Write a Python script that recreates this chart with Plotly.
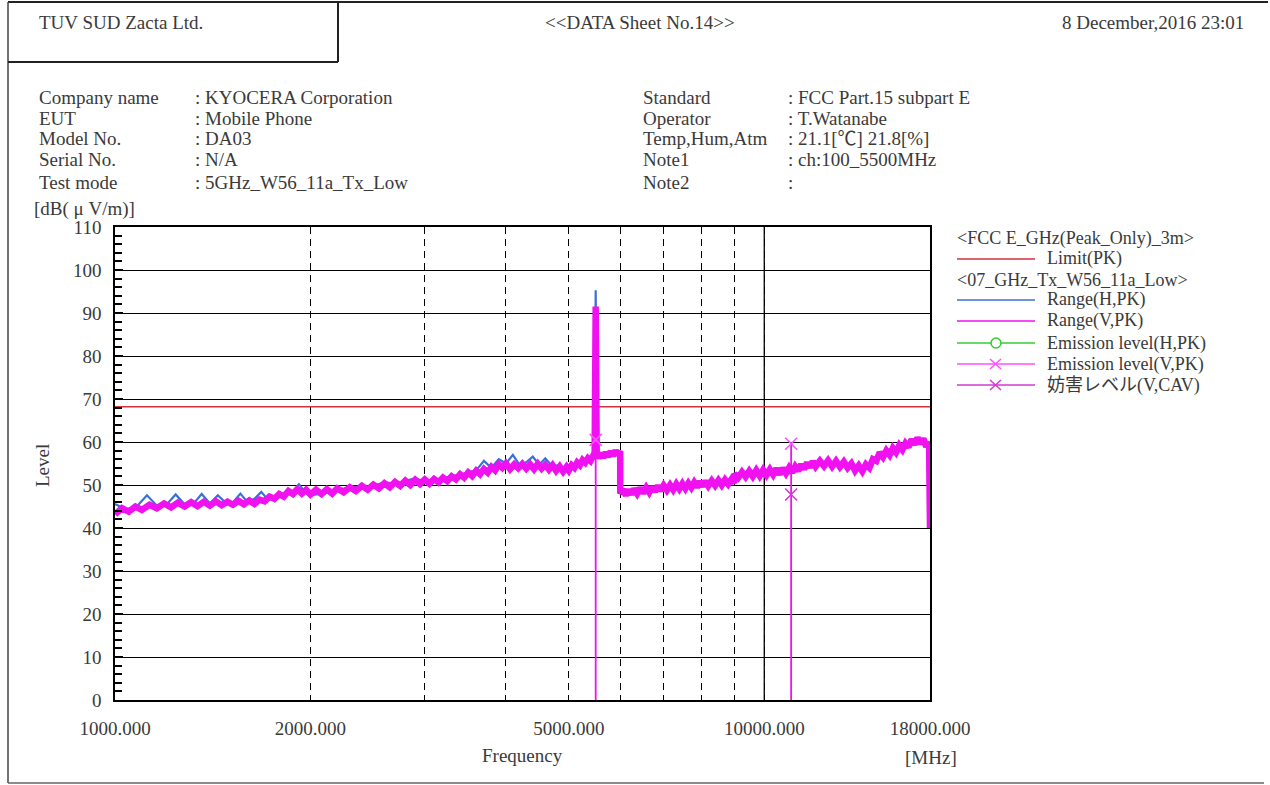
import plotly.graph_objects as go

# ---------------------------------------------------------------
# Radiated emission sweep, 1-18 GHz (levels in dB(uV/m))
# ---------------------------------------------------------------

# Range (V, PK) sweep
freq_v = [
    1000, 1025, 1050, 1075, 1100, 1130, 1160, 1190, 1220, 1250,
    1280, 1310, 1340, 1370, 1400, 1430, 1460, 1490, 1520, 1550,
    1580, 1610, 1640, 1670, 1700, 1730, 1760, 1790, 1820, 1850,
    1880, 1910, 1940, 1970, 2000,
    2040, 2080, 2120, 2160, 2200, 2250, 2300, 2350, 2400, 2450,
    2500, 2550, 2600, 2650, 2700, 2750, 2800, 2850, 2900, 2950, 3000,
    3050, 3100, 3150, 3200, 3250, 3300, 3350, 3400, 3450, 3500,
    3550, 3600, 3650, 3700, 3750, 3800, 3850, 3900, 3950, 4000,
    4060, 4120, 4180, 4240, 4300, 4360, 4420, 4480, 4540, 4600,
    4660, 4720, 4780, 4840, 4900, 4960, 5000,
    5050, 5100, 5150, 5200, 5250, 5300, 5350, 5400, 5450, 5480, 5500, 5520,
    5560, 5600, 5650, 5700, 5750, 5800, 5850, 5900, 5950, 5999,
    6000, 6060, 6120, 6180, 6240, 6300, 6370, 6440, 6510, 6580,
    6650, 6720, 6790, 6860, 6930, 7000, 7080, 7160, 7240, 7320,
    7400, 7480, 7560, 7640, 7720, 7800, 7880, 7960, 8040, 8120,
    8200, 8300, 8400, 8500, 8600, 8700, 8800, 8900, 8980,
    9000, 9120, 9240, 9360, 9480, 9600, 9720, 9840, 9960, 10080,
    10200, 10320, 10440, 10560, 10680, 10800, 10920, 11040, 11160, 11280,
    11400, 11520, 11640, 11760, 11880, 12000,
    12180, 12360, 12540, 12720, 12900, 13080, 13260, 13440, 13620, 13800,
    13980, 14160, 14340, 14520, 14700, 14880, 15060, 15240, 15420, 15600,
    15780, 15960, 16140, 16320, 16500, 16680, 16860, 17040, 17220, 17400,
    17580, 17760, 17940, 18000,
]
level_v = [
    43.2, 44.6, 43.8, 45.0, 44.2, 45.4, 44.6, 45.7, 44.8, 45.9,
    45.0, 46.0, 45.1, 46.1, 45.2, 46.2, 45.3, 46.1, 45.4, 46.3,
    45.5, 46.4, 45.6, 46.6, 46.2, 47.3, 46.8, 47.9, 47.3, 48.6,
    47.9, 49.0, 48.0, 48.9, 47.8,
    48.9, 47.9, 49.0, 48.0, 49.2, 48.3, 49.5, 48.6, 49.8, 48.9,
    50.1, 49.2, 50.4, 49.5, 50.7, 49.8, 51.0, 50.0, 51.2, 50.2, 51.3,
    50.3, 51.4, 50.6, 51.7, 50.9, 52.0, 51.3, 52.5, 51.7, 52.9,
    52.1, 53.3, 52.5, 53.7, 52.9, 54.2, 53.4, 54.8, 54.0, 55.0,
    53.7, 54.8, 53.9, 54.9, 53.8, 54.8, 53.7, 54.9, 53.8, 54.7,
    53.6, 54.6, 53.3, 54.3, 53.1, 54.2, 53.4,
    54.6, 54.0, 55.2, 54.6, 55.8, 55.2, 56.2, 55.6, 56.6, 57.5, 91.5, 57.8,
    56.2, 57.4, 56.4, 57.6, 56.6, 57.8, 56.8, 58.0, 57.0, 57.9,
    48.0, 49.0, 47.6, 48.9, 47.8, 49.1, 48.0, 49.3, 48.1, 49.4,
    48.3, 49.6, 48.5, 49.8, 48.7, 49.9, 48.8, 50.0, 48.9, 50.2,
    49.1, 50.3, 49.2, 50.4, 49.4, 50.6, 49.5, 50.8, 49.7, 50.9,
    49.8, 51.0, 49.9, 51.1, 50.0, 51.2, 50.2, 51.3, 50.4,
    52.6, 51.7, 53.0, 51.9, 53.2, 52.0, 53.4, 52.1, 53.5, 52.3,
    53.6, 52.4, 53.8, 52.5, 53.9, 52.7, 54.0, 52.9, 54.3, 53.3,
    54.8, 53.7, 55.2, 54.1, 55.5, 54.3,
    55.6, 54.4, 55.7, 54.3, 55.6, 54.2, 55.4, 54.0, 55.0, 53.3,
    54.5, 53.2, 54.8, 54.0, 56.0, 55.6, 57.6, 56.5, 58.0, 57.0,
    58.6, 57.6, 59.2, 58.2, 59.7, 58.8, 60.6, 59.4, 61.0, 59.6,
    60.8, 58.9, 60.0, 40.0,
]

# Range (H, PK) sweep
freq_h = [
    1000, 1040, 1080, 1120, 1160, 1200, 1240, 1280, 1320, 1360,
    1400, 1440, 1480, 1520, 1560, 1600, 1640, 1680, 1720, 1760,
    1800, 1840, 1880, 1920, 1960, 2000, 2080, 2160, 2240, 2320,
    2400, 2500, 2600, 2700, 2800, 2900, 3000, 3100, 3200, 3300,
    3400, 3500, 3600, 3700, 3800, 3900, 4000, 4100, 4200, 4300,
    4400, 4500, 4600, 4700, 4800, 4900, 5000, 5100, 5200, 5300,
    5400, 5480, 5500, 5520, 5600, 5700, 5800, 5900, 5999, 6000,
    6150, 6300, 6450, 6600, 6800, 7000, 7200, 7400, 7600, 7800,
    8000, 8250, 8500, 8750, 8980, 9000, 9300, 9600, 9900, 10200,
    10500, 10800, 11100, 11400, 11700, 12000, 12400, 12800, 13200, 13600,
    14000, 14400, 14800, 15200, 15600, 16000, 16400, 16800, 17200, 17600,
    17940, 18000,
]
level_h = [
    45.6, 44.3, 45.0, 47.6, 45.2, 45.4, 47.8, 45.5, 45.6, 47.9,
    45.7, 47.6, 45.9, 46.0, 48.0, 46.0, 46.8, 48.4, 46.6, 47.3,
    47.6, 48.3, 48.6, 50.2, 48.4, 47.6, 48.0, 48.6, 49.0, 49.6,
    49.3, 49.8, 50.6, 50.3, 50.9, 51.6, 50.8, 51.2, 51.7, 52.1,
    52.4, 53.0, 53.4, 55.6, 54.0, 56.0, 55.0, 57.0, 54.6, 55.3,
    56.6, 54.7, 56.2, 54.6, 54.5, 54.0, 54.0, 54.8, 55.2, 55.9,
    56.3, 57.2, 95.3, 57.5, 57.0, 57.3, 57.4, 57.6, 57.5, 48.4,
    48.6, 48.8, 49.0, 49.1, 49.3, 49.5, 49.7, 49.9, 50.1, 50.3,
    50.4, 50.5, 50.6, 50.7, 50.8, 52.4, 52.6, 52.7, 52.9, 53.0,
    53.2, 53.4, 53.6, 54.2, 54.7, 55.0, 55.1, 55.0, 54.8, 54.3,
    53.8, 54.4, 56.0, 57.2, 57.8, 58.4, 59.0, 59.8, 60.3, 60.1,
    59.6, 40.0,
]

# FCC limit (peak) and final measured points
limit_freq = [1000, 18000]
limit_level = [68.2, 68.2]
pk_freq = [5500, 11000]
pk_level = [60.5, 59.6]
cav_freq = [11000]
cav_level = [47.8]

# Axis ticks
grid_freq = [1000, 2000, 3000, 4000, 5000, 6000, 7000, 8000, 9000, 10000, 18000]
grid_text = ["1000.000", "2000.000", "", "", "5000.000", "", "", "", "",
             "10000.000", "18000.000"]
level_ticks = [0, 10, 20, 30, 40, 50, 60, 70, 80, 90, 100, 110]

# ---------------------------------------------------------------
W, H = 1270, 785
L, R, T, B = 115, 930, 227, 700
FONT = "Liberation Serif, Noto Sans CJK JP, serif"
TXT = "#3a3a3a"
C_LIMIT = "#d2303c"
C_H = "#3a6fd8"
C_V = "#f010f0"
C_H_EM = "#33cc33"
C_V_PK = "#ff50ff"
C_V_CAV = "#d03ad0"


def px(x):
    return (x - L) / (R - L)


def py(y):
    return (B - y) / (B - T)


def label(text, x, y, anchor="left", size=19, angle=0, color=TXT):
    return dict(text=text, x=px(x), y=py(y), xref="paper", yref="paper",
                xanchor=anchor, yanchor="middle", showarrow=False,
                textangle=angle, font=dict(size=size, color=color, family=FONT))


def pline(x0, y0, x1, y1, color="#222", width=1.5):
    return dict(type="line", xref="paper", yref="paper",
                x0=px(x0), y0=py(y0), x1=px(x1), y1=py(y1),
                line=dict(color=color, width=width))


fig = go.Figure()

# solid decade line at 10 GHz
fig.add_trace(go.Scatter(x=[grid_freq[9], grid_freq[9]], y=[level_ticks[0], level_ticks[-1]],
                         mode="lines", line=dict(color="black", width=1.3),
                         hoverinfo="skip", showlegend=False))

fig.add_trace(go.Scatter(x=limit_freq, y=limit_level, mode="lines",
                         line=dict(color=C_LIMIT, width=1.6), name="Limit(PK)",
                         showlegend=False))

fig.add_trace(go.Scatter(x=freq_h, y=level_h, mode="lines",
                         line=dict(color=C_H, width=2.2), name="Range(H,PK)",
                         showlegend=False))

fig.add_trace(go.Scatter(x=freq_v, y=level_v, mode="lines",
                         line=dict(color=C_V, width=6.5), name="Range(V,PK)",
                         showlegend=False))

# drop lines for final measurement points
stem_x, stem_y = [], []
for f, lv in zip(pk_freq, pk_level):
    stem_x += [f, f, None]
    stem_y += [0, lv, None]
fig.add_trace(go.Scatter(x=stem_x, y=stem_y, mode="lines",
                         line=dict(color=C_V, width=1.8), hoverinfo="skip",
                         showlegend=False))

fig.add_trace(go.Scatter(x=pk_freq, y=pk_level, mode="markers",
                         marker=dict(symbol="x-thin", size=12,
                                     line=dict(color=C_V_PK, width=1.6)),
                         name="Emission level(V,PK)", showlegend=False))

fig.add_trace(go.Scatter(x=cav_freq, y=cav_level, mode="markers",
                         marker=dict(symbol="x-thin", size=12,
                                     line=dict(color=C_V_CAV, width=1.6)),
                         name="妨害レベル(V,CAV)", showlegend=False))

# ---------------------------------------------------------------
shapes = [
    # sheet frame
    pline(8, 2, 1268, 2, "#222", 2),
    pline(8, 2, 8, 783, "#444", 1.5),
    pline(8, 783, 1264, 783, "#666", 1.5),
    pline(8, 62, 338, 62, "#222", 2),
    pline(338, 2, 338, 62, "#222", 2),
    # legend samples
    pline(957, 259, 1035, 259, C_LIMIT, 1.5),
    pline(957, 300, 1035, 300, C_H, 1.5),
    pline(957, 321, 1035, 321, C_V, 1.5),
    pline(957, 343, 1035, 343, C_H_EM, 1.5),
    pline(957, 364, 1035, 364, C_V_PK, 1.5),
    pline(957, 385, 1035, 385, C_V_CAV, 1.5),
    dict(type="circle", xref="paper", yref="paper",
         x0=px(991), x1=px(1001), y0=py(348), y1=py(338),
         line=dict(color=C_H_EM, width=1.5), fillcolor="white"),
    pline(990, 359, 1001, 369, C_V_PK, 1.5),
    pline(990, 369, 1001, 359, C_V_PK, 1.5),
    pline(990, 380, 1001, 390, C_V_CAV, 1.5),
    pline(990, 390, 1001, 380, C_V_CAV, 1.5),
]

annotations = [
    label("TUV SUD Zacta Ltd.", 37, 22),
    label("&lt;&lt;DATA Sheet No.14&gt;&gt;", 640, 22, anchor="center"),
    label("8 December,2016 23:01", 1246, 22, anchor="right"),
    label("[dB( μ V/m)]", 32, 209),
    label("Level", 42, 466, anchor="center", angle=-90),
    label("Frequency", 522, 755, anchor="center"),
    label("[MHz]", 931, 757, anchor="center"),
    label("&lt;FCC E_GHz(Peak_Only)_3m&gt;", 955, 239, size=18),
    label("Limit(PK)", 1045, 258, size=18),
    label("&lt;07_GHz_Tx_W56_11a_Low&gt;", 955, 280, size=18),
    label("Range(H,PK)", 1045, 299, size=18),
    label("Range(V,PK)", 1045, 320, size=18),
    label("Emission level(H,PK)", 1045, 343, size=18),
    label("Emission level(V,PK)", 1045, 364, size=18),
    label("妨害レベル(V,CAV)", 1045, 385, size=18),
]

info_left = [("Company name", ": KYOCERA Corporation"),
             ("EUT", ": Mobile Phone"),
             ("Model No.", ": DA03"),
             ("Serial No.", ": N/A"),
             ("Test mode", ": 5GHz_W56_11a_Tx_Low")]
info_right = [("Standard", ": FCC Part.15 subpart E"),
              ("Operator", ": T.Watanabe"),
              ("Temp,Hum,Atm", ": 21.1[℃] 21.8[%]"),
              ("Note1", ": ch:100_5500MHz"),
              ("Note2", ":")]
rows_y = [97, 118, 139, 160, 182]
for (k, v), yy in zip(info_left, rows_y):
    annotations.append(label(k, 37, yy))
    annotations.append(label(v, 193, yy))
for (k, v), yy in zip(info_right, rows_y):
    annotations.append(label(k, 641, yy))
    annotations.append(label(v, 786, yy))

fig.update_layout(
    width=W, height=H,
    margin=dict(l=L, r=W - R, t=T, b=H - B, pad=0),
    paper_bgcolor="white", plot_bgcolor="white",
    showlegend=False,
    font=dict(family=FONT, size=19, color=TXT),
    shapes=shapes, annotations=annotations,
    xaxis=dict(
        type="log", range=[3, 4.255272505],
        tickmode="array", tickvals=grid_freq, ticktext=grid_text,
        showgrid=True, gridcolor="black", gridwidth=1.3, griddash="7px,5px",
        ticks="", showline=True, linecolor="black", linewidth=1.6, mirror=True,
        zeroline=False, ticklabelstandoff=10,
        tickfont=dict(size=19, color=TXT, family=FONT),
    ),
    yaxis=dict(
        range=[0, 110], tickmode="array", tickvals=level_ticks,
        showgrid=True, gridcolor="black", gridwidth=1.3,
        ticks="inside", ticklen=8, tickwidth=1.5, tickcolor="black",
        minor=dict(dtick=2, ticks="inside", ticklen=7, tickwidth=1.5,
                   tickcolor="black", showgrid=False),
        showline=True, linecolor="black", linewidth=1.6, mirror=True,
        zeroline=False, ticklabelstandoff=8,
        tickfont=dict(size=19, color=TXT, family=FONT),
    ),
)

fig.write_html("out.html")
